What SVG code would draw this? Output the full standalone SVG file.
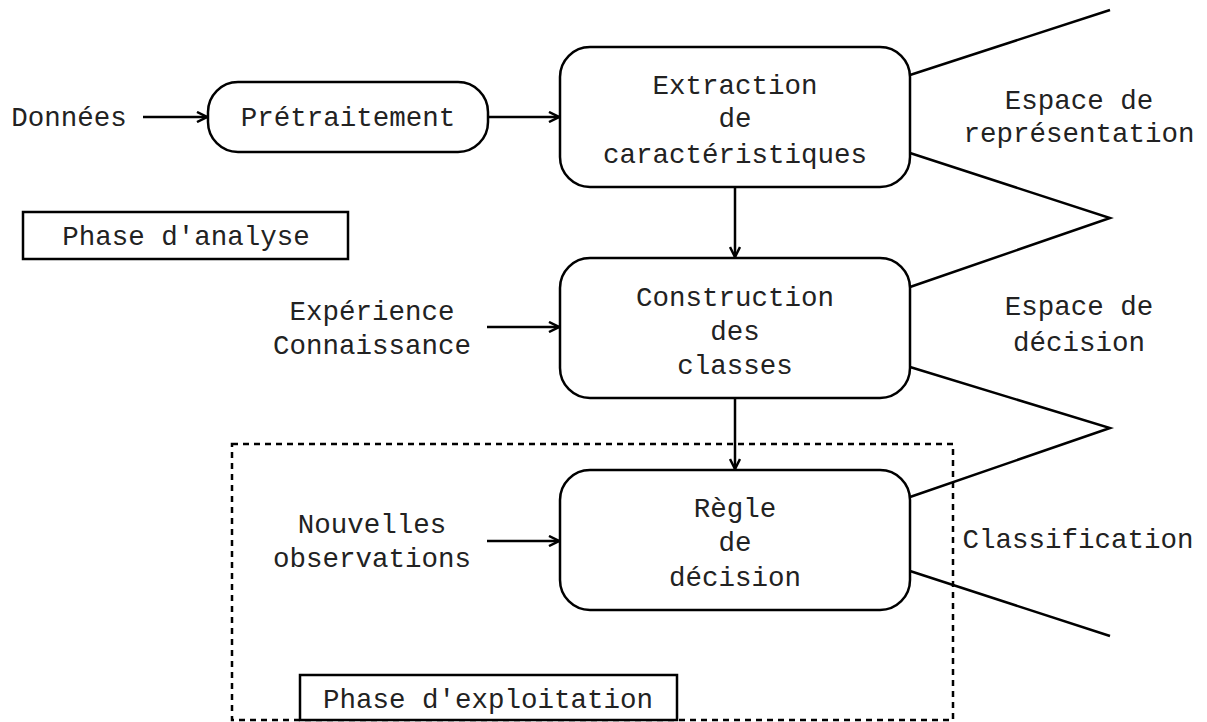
<svg xmlns="http://www.w3.org/2000/svg" width="1207" height="722" viewBox="0 0 1207 722">
<style>
text{font-family:"Liberation Mono","Courier New",monospace;font-size:27.5px;fill:#222;text-anchor:middle}
.box{fill:#fff;stroke:#000;stroke-width:2.5}
.ln{stroke:#000;stroke-width:2.5;fill:none}
.ar{stroke:#000;stroke-width:2.5;fill:none;marker-end:url(#ah)}
</style>
<defs>
<marker id="ah" viewBox="0 0 10 10" refX="9" refY="5" markerWidth="5" markerHeight="5" orient="auto" markerUnits="strokeWidth">
<path d="M1,1 L9,5 L1,9" fill="none" stroke="#000" stroke-width="2"/>
</marker>
</defs>
<rect width="1207" height="722" fill="#fff"/>
<g id="exploitation-frame">
<rect x="232" y="444" width="721" height="276" fill="none" stroke="#000" stroke-width="2.5" stroke-dasharray="6 5"/>
</g>
<g id="connectors">
<line class="ar" x1="143" y1="117" x2="207" y2="117"/>
<line class="ar" x1="488" y1="117" x2="559" y2="117"/>
<line class="ar" x1="735" y1="187" x2="735" y2="257"/>
<line class="ar" x1="735" y1="398" x2="735" y2="469"/>
<line class="ar" x1="487" y1="327" x2="559" y2="327"/>
<line class="ar" x1="487" y1="541" x2="559" y2="541"/>
<line class="ln" x1="910" y1="75" x2="1110" y2="10"/>
<polyline class="ln" points="910,153 1110,218 910,287"/>
<polyline class="ln" points="910,367 1110,428 910,497"/>
<line class="ln" x1="910" y1="571" x2="1110" y2="636"/>
</g>
<g id="donnees"><text x="69" y="126">Données</text></g>
<g id="pretraitement">
<rect class="box" x="208" y="82" width="280" height="70" rx="30"/>
<text x="348" y="126">Prétraitement</text>
</g>
<g id="extraction">
<rect class="box" x="560" y="47" width="350" height="140" rx="30"/>
<text x="735" y="94">Extraction</text>
<text x="735" y="127">de</text>
<text x="735" y="163">caractéristiques</text>
</g>
<g id="construction">
<rect class="box" x="560" y="258" width="350" height="140" rx="30"/>
<text x="735" y="306">Construction</text>
<text x="735" y="340">des</text>
<text x="735" y="374">classes</text>
</g>
<g id="regle">
<rect class="box" x="560" y="470" width="350" height="140" rx="30"/>
<text x="735" y="517">Règle</text>
<text x="735" y="551">de</text>
<text x="735" y="586">décision</text>
</g>
<g id="experience">
<text x="372" y="320">Expérience</text>
<text x="372" y="354">Connaissance</text>
</g>
<g id="nouvelles">
<text x="372" y="533">Nouvelles</text>
<text x="372" y="567">observations</text>
</g>
<g id="phase-analyse">
<rect x="23" y="212" width="325" height="47" fill="#fff" stroke="#000" stroke-width="2.5"/>
<text x="186" y="245">Phase d'analyse</text>
</g>
<g id="phase-exploitation">
<rect x="300" y="675" width="377" height="45" fill="#fff" stroke="#000" stroke-width="2.5"/>
<text x="488" y="708">Phase d'exploitation</text>
</g>
<g id="espace-representation">
<text x="1079" y="109">Espace de</text>
<text x="1079" y="142">représentation</text>
</g>
<g id="espace-decision">
<text x="1079" y="315">Espace de</text>
<text x="1079" y="351">décision</text>
</g>
<g id="classification"><text x="1078" y="548">Classification</text></g>
</svg>
